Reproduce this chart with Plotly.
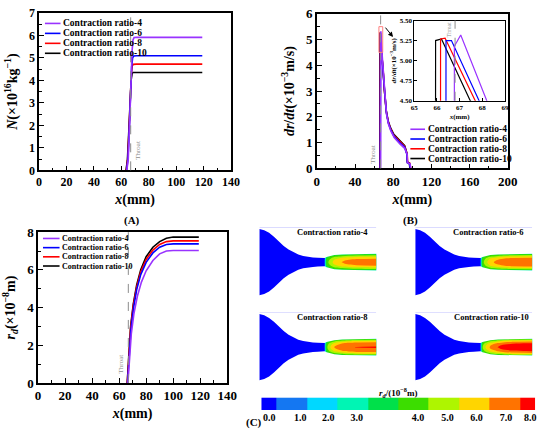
import plotly.graph_objects as go

W, H = 550, 447
FONT = "Liberation Serif, Times New Roman, serif"

# ---------------- data ----------------
series_names = ["Contraction ratio-4", "Contraction ratio-6", "Contraction ratio-8", "Contraction ratio-10"]
series_colors = ["#9933FF", "#0000FF", "#FF0000", "#000000"]
throat_x = 66.8

# (A) number density N (x10^16 kg^-1) vs x (mm)
nA_x_cr4 = [64.0, 65.0, 66.0, 67.0, 67.8, 68.5, 69.3, 71, 119]
nA_y_cr4 = [0, 0.5, 2.0, 4.0, 5.3, 5.8, 5.9, 5.91, 5.91]
nA_x_cr6 = [63.8, 64.8, 65.8, 66.7, 67.5, 68.2, 69.0, 71, 119]
nA_y_cr6 = [0, 0.5, 1.9, 3.6, 4.6, 5.0, 5.08, 5.09, 5.09]
nA_x_cr8 = [63.6, 64.6, 65.6, 66.5, 67.3, 68.0, 68.7, 71, 119]
nA_y_cr8 = [0, 0.5, 1.8, 3.3, 4.3, 4.65, 4.71, 4.72, 4.72]
nA_x_cr10 = [63.4, 64.4, 65.4, 66.3, 67.1, 67.8, 68.5, 71, 119]
nA_y_cr10 = [0, 0.45, 1.7, 3.1, 4.0, 4.3, 4.35, 4.35, 4.35]

# (B) growth rate dr/dt (x10^-3 m/s) vs x (mm)
gB_x_cr4 = [66.76, 66.77, 67.05, 68.2, 69.6, 71.3, 73.0, 75.0, 77.5, 81.0, 87.0, 92.0, 94.5, 95.0, 97.5, 98.5]
gB_y_cr4 = [0, 5.18, 5.32, 4.5, 3.9, 2.9, 2.1, 1.72, 1.45, 1.2, 0.95, 0.78, 0.55, 0.22, 0.18, 0]
gB_x_cr6 = [66.39, 66.40, 66.64, 67.86, 69.4, 71.1, 72.9, 74.9, 77.4, 80.8, 86.8, 92.0, 94.3, 94.8, 97.0, 98.0]
gB_y_cr6 = [0, 5.25, 5.25, 4.5, 3.9, 2.95, 2.15, 1.76, 1.5, 1.25, 1.0, 0.82, 0.55, 0.22, 0.18, 0]
gB_x_cr8 = [66.15, 66.16, 66.36, 67.69, 69.2, 70.9, 72.8, 74.8, 77.3, 80.7, 86.8, 92.0, 94.6, 95.1, 97.3, 98.3]
gB_y_cr8 = [0, 5.27, 5.28, 4.5, 3.95, 3.0, 2.2, 1.8, 1.53, 1.28, 1.03, 0.85, 0.55, 0.22, 0.2, 0]
gB_x_cr10 = [65.93, 65.94, 66.2, 67.47, 69.0, 70.7, 72.6, 74.6, 77.2, 80.6, 86.8, 92.0, 94.2, 94.7, 96.8, 97.5]
gB_y_cr10 = [0, 5.25, 5.27, 4.5, 4.0, 3.05, 2.25, 1.85, 1.57, 1.32, 1.07, 0.88, 0.6, 0.25, 0.22, 0]

# (C) droplet radius r_d (x10^-8 m) vs x (mm)
rC_x_cr4 = [66.5, 67.5, 69.0, 71.0, 73.5, 76.5, 80, 85, 90, 95, 100, 119]
rC_y_cr4 = [0, 1.3, 2.6, 3.7, 4.6, 5.35, 5.95, 6.5, 6.85, 7.0, 7.03, 7.03]
rC_x_cr6 = [66.2, 67.2, 68.7, 70.7, 73, 76, 80, 85, 90, 95, 100, 119]
rC_y_cr6 = [0, 1.4, 2.8, 4.0, 4.95, 5.75, 6.4, 6.9, 7.2, 7.35, 7.38, 7.38]
rC_x_cr8 = [66.0, 67.0, 68.5, 70.5, 73, 76, 80, 85, 90, 95, 100, 119]
rC_y_cr8 = [0, 1.45, 2.9, 4.1, 5.1, 5.9, 6.55, 7.05, 7.35, 7.5, 7.54, 7.54]
rC_x_cr10 = [66.0, 67.0, 68.5, 70.5, 73, 76, 80, 85, 90, 95, 100, 119]
rC_y_cr10 = [0, 1.5, 3.0, 4.2, 5.2, 6.0, 6.7, 7.2, 7.5, 7.68, 7.74, 7.74]

# nozzle wall (x mm, half height mm)
wall_x = [0, 5, 10, 15, 20, 25, 30, 35, 40, 45, 50, 55, 60, 67, 69, 72, 77, 85, 95, 105, 120]
wall_h = [34.3, 33.0, 30.3, 26.3, 21.0, 16.7, 13.0, 10.0, 7.8, 6.4, 5.5, 4.9, 4.6, 4.3, 5.3, 6.3, 7.3, 8.0, 8.4, 8.6, 8.7]

# r_d field downstream of throat: columns at field_x, rows at distance field_r from axis
field_x = [67, 67.5, 69, 72, 77, 85, 92, 100, 120]
field_r = [0, 2, 4, 5.5, 7, 8, 9]
field_cr4 = [
    [0.3, 2.0, 4.4, 5.2, 6.1, 6.7, 6.95, 7.05, 7.1],
    [0.3, 1.9, 4.3, 5.0, 5.9, 6.5, 6.8, 6.9, 6.95],
    [0.2, 1.7, 3.9, 4.6, 5.4, 6.0, 6.3, 6.5, 6.6],
    [0.1, 1.4, 3.3, 4.1, 4.8, 5.3, 5.5, 5.7, 5.8],
    [0.0, 1.0, 2.8, 3.5, 3.9, 4.3, 4.6, 4.8, 5.0],
    [0.0, 0.6, 2.2, 2.8, 3.1, 3.5, 3.7, 3.9, 4.0],
    [0.0, 0.3, 1.5, 2.0, 2.0, 2.1, 2.1, 2.1, 2.1],
]
field_cr6 = [
    [0.3, 2.1, 4.5, 5.4, 6.4, 7.0, 7.3, 7.45, 7.5],
    [0.3, 2.0, 4.4, 5.2, 6.2, 6.8, 7.1, 7.25, 7.3],
    [0.2, 1.8, 4.0, 4.8, 5.7, 6.3, 6.6, 6.8, 6.9],
    [0.1, 1.5, 3.4, 4.3, 5.0, 5.6, 5.8, 6.0, 6.1],
    [0.0, 1.0, 2.8, 3.6, 4.1, 4.5, 4.8, 5.0, 5.2],
    [0.0, 0.6, 2.2, 2.9, 3.2, 3.6, 3.8, 4.0, 4.1],
    [0.0, 0.3, 1.5, 2.0, 2.0, 2.1, 2.1, 2.1, 2.1],
]
field_cr8 = [
    [0.3, 2.2, 4.6, 5.6, 6.7, 7.25, 7.48, 7.58, 7.62],
    [0.3, 2.1, 4.5, 5.4, 6.5, 7.05, 7.3, 7.4, 7.45],
    [0.2, 1.9, 4.1, 5.0, 5.9, 6.6, 6.9, 7.05, 7.1],
    [0.1, 1.5, 3.5, 4.4, 5.2, 5.8, 6.2, 6.4, 6.5],
    [0.0, 1.0, 2.9, 3.7, 4.3, 4.8, 5.2, 5.4, 5.6],
    [0.0, 0.6, 2.3, 2.9, 3.3, 3.7, 4.0, 4.3, 4.4],
    [0.0, 0.3, 1.5, 2.0, 2.0, 2.1, 2.1, 2.1, 2.1],
]
field_cr10 = [
    [0.3, 2.3, 4.8, 5.8, 6.8, 7.6, 7.9, 8.0, 8.0],
    [0.3, 2.2, 4.7, 5.6, 6.6, 7.4, 7.75, 7.85, 7.9],
    [0.2, 2.0, 4.3, 5.1, 6.0, 6.8, 7.2, 7.45, 7.6],
    [0.1, 1.6, 3.7, 4.5, 5.3, 6.0, 6.5, 6.7, 6.9],
    [0.0, 1.1, 3.0, 3.8, 4.4, 5.0, 5.5, 5.8, 6.0],
    [0.0, 0.7, 2.4, 3.0, 3.4, 3.9, 4.3, 4.6, 4.8],
    [0.0, 0.3, 1.5, 2.0, 2.1, 2.2, 2.2, 2.2, 2.2],
]
inlet_x = [0, 66]          # converging part: r_d = 0
outer_r = 36               # edge of drawing frame

# colour levels of r_d (x10^-8 m)
level_start, level_size, level_count = 4 / 9, 8 / 9, 9
level_colors = ["#0000FF", "#1477F2", "#00D8FF", "#00F5B4", "#00E04A",
                "#3CDD00", "#AEF500", "#FFD500", "#FF7300", "#FF0000"]
cbar_labels = ["0.0", "1.0", "2.0", "3.0", "4.0", "5.0", "6.0", "7.0", "8.0"]

# ---------------- figure ----------------
fig = go.Figure()


def dom_x(p0, p1):
    return [p0 / W, p1 / W]


def dom_y(p0, p1):
    return [1 - p1 / H, 1 - p0 / H]


order = [3, 2, 1, 0]
A = [(nA_x_cr4, nA_y_cr4), (nA_x_cr6, nA_y_cr6), (nA_x_cr8, nA_y_cr8), (nA_x_cr10, nA_y_cr10)]
B = [(gB_x_cr4, gB_y_cr4), (gB_x_cr6, gB_y_cr6), (gB_x_cr8, gB_y_cr8), (gB_x_cr10, gB_y_cr10)]
C = [(rC_x_cr4, rC_y_cr4), (rC_x_cr6, rC_y_cr6), (rC_x_cr8, rC_y_cr8), (rC_x_cr10, rC_y_cr10)]

for i in order:
    fig.add_trace(go.Scatter(x=A[i][0], y=A[i][1], mode="lines", name=series_names[i],
                             line=dict(color=series_colors[i], width=1.6), xaxis="x", yaxis="y"))
for i in order:
    fig.add_trace(go.Scatter(x=B[i][0], y=B[i][1], mode="lines", name=series_names[i],
                             line=dict(color=series_colors[i], width=1.6), xaxis="x2", yaxis="y2"))
for i in order:
    fig.add_trace(go.Scatter(x=B[i][0], y=B[i][1], mode="lines", name=series_names[i],
                             line=dict(color=series_colors[i], width=1.2), xaxis="x3", yaxis="y3"))
for i in order:
    fig.add_trace(go.Scatter(x=C[i][0], y=C[i][1], mode="lines", name=series_names[i],
                             line=dict(color=series_colors[i], width=1.6), xaxis="x4", yaxis="y4"))

# discrete colour scale
level_edges = [0] + [level_start + k * level_size for k in range(level_count)] + [8]
cscale = []
for k, col in enumerate(level_colors):
    cscale.append([level_edges[k] / 8, col])
    cscale.append([level_edges[k + 1] / 8, col])

# nozzle contour fields
grid_x = inlet_x + field_x
rows_r = field_r + [outer_r]
grid_y = [-r for r in reversed(rows_r[1:])] + rows_r
fields = [field_cr4, field_cr6, field_cr8, field_cr10]
for n, fld in enumerate(fields):
    half = [[0] * len(inlet_x) + row for row in fld] + [[0] * len(grid_x)]
    z = [half[rows_r.index(abs(y))] for y in grid_y]
    ax = str(5 + n)
    fig.add_trace(go.Contour(x=grid_x, y=grid_y, z=z, autocontour=False,
                             contours=dict(start=level_start, end=level_start + (level_count - 1) * level_size,
                                           size=level_size, coloring="fill", showlines=False),
                             line=dict(width=0), colorscale=cscale, showscale=False, hoverinfo="skip",
                             xaxis="x" + ax, yaxis="y" + ax))
    # white masks outside the nozzle wall
    for sgn in (1, -1):
        mx = [-1] + wall_x + [121, 121, -1]
        my = [sgn * wall_h[0]] + [sgn * h for h in wall_h] + [sgn * wall_h[-1], sgn * (outer_r + 1), sgn * (outer_r + 1)]
        fig.add_trace(go.Scatter(x=mx, y=my, fill="toself", fillcolor="white", mode="lines",
                                 line=dict(width=0, color="white"), hoverinfo="skip",
                                 xaxis="x" + ax, yaxis="y" + ax))

# colour bar strip
strip_mid = [(level_edges[k] + level_edges[k + 1]) / 2 for k in range(len(level_colors))]
fig.add_trace(go.Heatmap(x=level_edges, y=[0, 1], z=[strip_mid], zmin=0, zmax=8, colorscale=cscale,
                         showscale=False, hoverinfo="skip", xaxis="x9", yaxis="y9"))

tf = lambda s: dict(family=FONT, size=s, color="black", weight="bold")


def main_axis(rng, dtick, mdtick, tsize, dom, anchor, title=None, standoff=None, lw=1.5, tl=5, **kw):
    d = dict(range=rng, dtick=dtick, tick0=0, domain=dom, anchor=anchor,
             showline=True, linecolor="black", linewidth=lw, mirror=True,
             ticks="inside", ticklen=tl, tickwidth=1.3, tickcolor="black",
             showgrid=False, zeroline=False, tickfont=tf(tsize), fixedrange=True)
    if mdtick:
        d["minor"] = dict(ticks="inside", ticklen=3, tickwidth=1.1, tickcolor="black",
                          dtick=mdtick, tick0=0, showgrid=False)
    if title:
        d["title"] = dict(text=title, font=tf(14 if tsize > 9 else 7))
        if standoff is not None:
            d["title"]["standoff"] = standoff
    d.update(kw)
    return d


xt = "<i>x</i>(mm)"
fig.update_layout(
    width=W, height=H, margin=dict(l=0, r=0, t=0, b=0),
    paper_bgcolor="white", plot_bgcolor="white", showlegend=False,
    font=dict(family=FONT, color="black"),
    xaxis=main_axis([0, 140], 20, 10, 12, dom_x(36, 233), "y", xt, 6),
    yaxis=main_axis([0, 7], 1, 0.5, 12, dom_y(6, 169), "x",
                    "<i>N</i>(×10<sup>16</sup>kg<sup>−1</sup>)", 8),
    xaxis2=main_axis([0, 200], 40, 20, 13, dom_x(321, 517), "y2", xt, 6),
    yaxis2=main_axis([0, 6], 1, 0.5, 13, dom_y(7, 167), "x2",
                     "<i>dr</i>/<i>dt</i>(×10<sup>−3</sup>m/s)", 8),
    xaxis3=main_axis([65, 69], 1, None, 7, dom_x(421, 514), "y3", xt, 2, lw=1, tl=3),
    yaxis3=main_axis([4.5, 5.5], 0.25, None, 7, dom_y(14, 97), "x3",
                     "<i>dr</i>/<i>dt</i>(×10<sup>−3</sup>m/s)", 2, lw=1, tl=3, tickformat=".2f"),
    xaxis4=main_axis([0, 140], 20, 10, 13, dom_x(35, 229), "y4", xt, 6),
    yaxis4=main_axis([0, 8], 2, 1, 13, dom_y(233, 389), "x4",
                     "<i>r<sub>d</sub></i>(×10<sup>−8</sup>m)", 8),
    xaxis9=dict(domain=dom_x(264, 545), anchor="y9", range=[0, 8], showline=False, showgrid=False,
                zeroline=False, ticks="", tickvals=[0.23, 1.14, 1.96, 2.79, 4.58, 5.44, 6.29, 7.15, 7.86],
                ticktext=cbar_labels, tickfont=tf(10), fixedrange=True),
    yaxis9=dict(domain=dom_y(404, 417), anchor="x9", range=[0, 1], visible=False, fixedrange=True),
)

panel_px = [((261, 383), (228, 300)), ((421, 543), (228, 300)),
            ((261, 383), (316, 388)), ((421, 543), (316, 388))]
for n, (px, py) in enumerate(panel_px):
    k = str(5 + n)
    fig.layout["xaxis" + k] = dict(domain=dom_x(*px), anchor="y" + k, range=[-1, 121], visible=False, fixedrange=True)
    fig.layout["yaxis" + k] = dict(domain=dom_y(*py), anchor="x" + k, range=[-outer_r, outer_r], visible=False, fixedrange=True)
    fig.add_annotation(xref="x" + k + " domain", yref="y" + k + " domain",
                       x=[0.627, 0.623, 0.627, 0.648][n], y=0.93, text=series_names[n],
                       showarrow=False, font=tf(8.5), xanchor="center", yanchor="middle")

# throat lines and labels
for xa, ya, lx, anch, yv, fs in [("x", "y", 1, "left", 0.9, 7), ("x2", "y2", -1, "right", 0.55, 7),
                                  ("x4", "y4", -1, "right", 1.0, 7), ("x3", "y3", -1, "right", 5.38, 5.5)]:
    fig.add_shape(type="line", xref=xa, yref=ya + " domain", x0=throat_x, x1=throat_x, y0=0, y1=1,
                  line=dict(color="#8C8C8C", width=1, dash="dash"))
    fig.add_annotation(xref=xa, yref=ya, x=throat_x, y=yv, text="Throat", textangle=-90, showarrow=False,
                       xanchor=anch, yanchor="middle", xshift=lx, font=dict(family=FONT, size=fs, color="#8C8C8C"))

# zoom box and arrow in (B)
fig.add_shape(type="rect", xref="x2", yref="y2", x0=65, x1=69, y0=4.5, y1=5.5,
              line=dict(color="#FF7F7F", width=1))
fig.add_annotation(xref="x2", yref="y2", axref="x2", ayref="y2", x=79.8, y=5.1, ax=70.6, ay=5.52,
                   text="", showarrow=True, arrowhead=2, arrowsize=1, arrowwidth=1, arrowcolor="black")


# legends
def add_legend(xl0, xl1, xt0, rows, fs):
    for name, col, yp in zip(series_names, series_colors, rows):
        fig.add_shape(type="line", xref="paper", yref="paper", x0=xl0 / W, x1=xl1 / W,
                      y0=1 - yp / H, y1=1 - yp / H, line=dict(color=col, width=1.6))
        fig.add_annotation(xref="paper", yref="paper", x=xt0 / W, y=1 - yp / H, text=name, showarrow=False,
                           xanchor="left", yanchor="middle", font=tf(fs), borderpad=0)


add_legend(42, 58, 60, [17, 27.3, 37.6, 47.9], 9.5)
add_legend(417, 432, 434, [126.5, 136.6, 146.7, 156.8], 9.5)
add_legend(40, 57, 58, [239.5, 249, 258.5, 268], 8)

# panel letters and colour bar title
for txt, xp, yp in [("(A)", 131, 221), ("(B)", 417, 221), ("(C)", 257, 430)]:
    fig.add_annotation(xref="paper", yref="paper", x=xp / W, y=1 - yp / H, text=txt, showarrow=False,
                       xanchor="center", yanchor="middle", font=tf(11))
fig.add_annotation(xref="paper", yref="paper", x=404 / W, y=1 - 399 / H,
                   text="<i>r<sub>d</sub></i>/(10<sup>−8</sup>m)", showarrow=False,
                   xanchor="center", yanchor="middle", font=tf(9))

fig.write_html("out.html", config={"displayModeBar": False},
               post_script="document.body.style.margin='0';")
